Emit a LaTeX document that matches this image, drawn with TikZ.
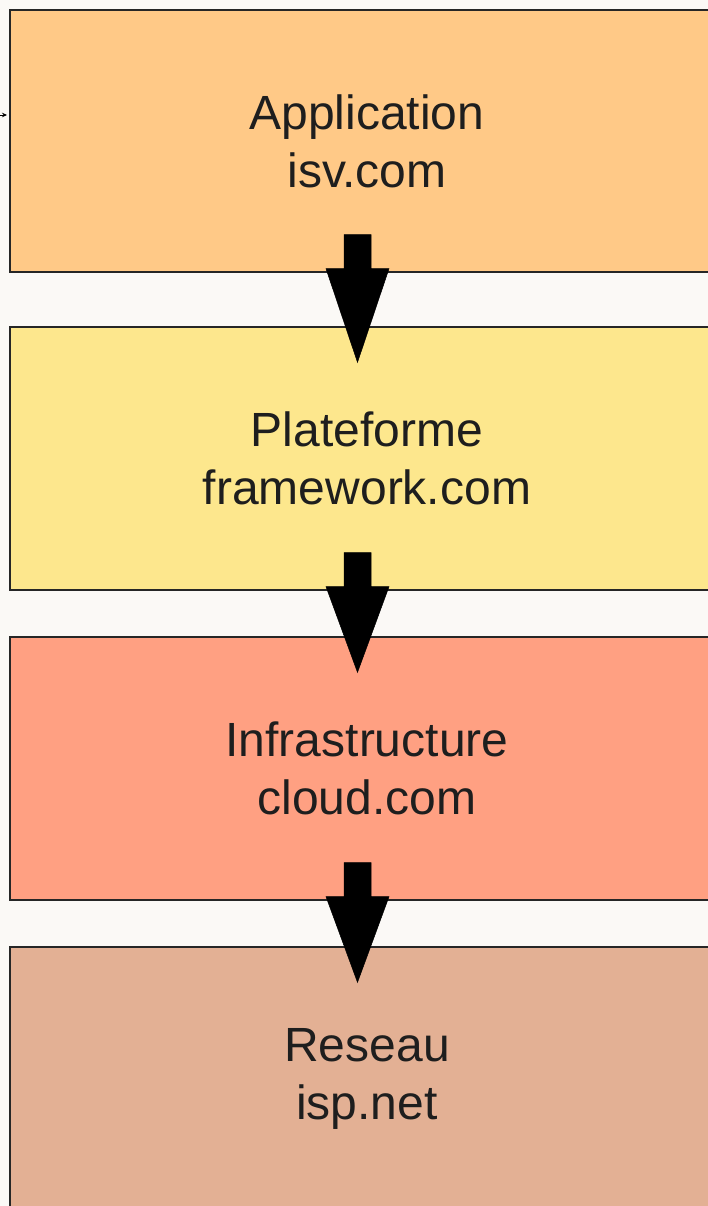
\documentclass[tikz,border=0pt]{standalone}
\usepackage{fontspec}
\setmainfont{Liberation Sans}
\usetikzlibrary{arrows.meta}
\definecolor{bgc}{RGB}{251,249,246}
\definecolor{cone}{RGB}{255,201,135}
\definecolor{ctwo}{RGB}{253,231,141}
\definecolor{cthree}{RGB}{255,160,130}
\definecolor{cfour}{RGB}{227,176,148}
\definecolor{txt}{RGB}{30,30,30}
\tikzset{
  layerbox/.style={draw=black!85, line width=1.3pt, minimum width=714pt, minimum height=263pt,
    inner sep=0pt, align=center, text=txt, font=\fontsize{48}{58}\selectfont},
  blockarrow/.style={fill=black, draw=black, line width=0.5pt, line join=miter},
  smallarrow/.style={line width=0.8pt, black, -{Stealth[length=5pt,width=4.5pt]}}
}
\begin{document}
\begin{tikzpicture}[x=1pt,y=-1pt]
\useasboundingbox (0,0) rectangle (708,1206);
\clip (0,0) rectangle (708,1206);
\fill[bgc] (0,0) rectangle (708,1206);
\node[layerbox, fill=cone, minimum height=262pt] (b1) at (367,141) {Application\\isv.com};
\node[layerbox, fill=ctwo] (b2) at (367,458.5) {Plateforme\\framework.com};
\node[layerbox, fill=cthree] (b3) at (367,768.5) {Infrastructure\\cloud.com};
\node[layerbox, fill=cfour] (b4) at (367,1078.5) {Reseau\\isp.net};
\foreach \a/\b in {b1/b2, b2/b3, b3/b4} {
  \coordinate (top) at ([xshift=-9.5pt,yshift=38pt]\a.south);
  \coordinate (tip) at ([xshift=-9.5pt,yshift=-36pt]\b.north);
  \draw[blockarrow] (top) ++(-13.5,0) -- ++(0,34) -- ++(-18,0) -- (tip)
    -- ([xshift=31.5pt,yshift=-34pt]top) -- ++(-18,0) -- ++(0,-34) -- cycle;
}
\coordinate (src) at (-2,115);
\coordinate (dst) at (7,115);
\draw[smallarrow] (src) -- (dst);
\end{tikzpicture}
\end{document}
